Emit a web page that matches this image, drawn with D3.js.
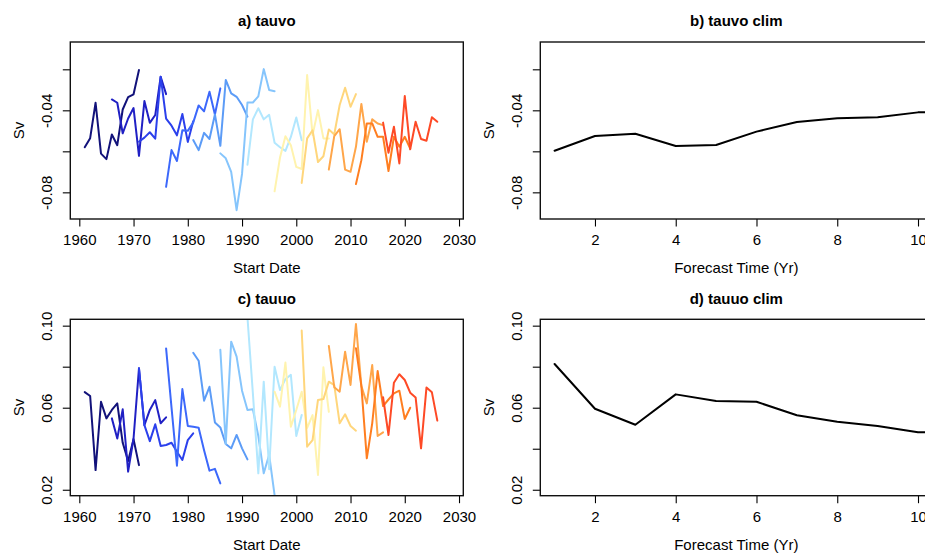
<!DOCTYPE html>
<html>
<head>
<meta charset="utf-8">
<script src="https://cdn.jsdelivr.net/npm/d3@7"></script>
<style>
  body { margin: 0; background: #fff; }
  svg text { font-family: "Liberation Sans", Arial, Helvetica, sans-serif; font-size: 15px; fill: #000; }
</style>
</head>
<body>
<div id="chart"></div>
<script>

// start date of each forecast and the 11 years that each one covers
var startYears = [1961, 1966, 1971, 1976, 1981, 1986, 1991, 1996, 2001, 2006, 2011, 2016];
var leadOffsets = [0, 1, 2, 3, 4, 5, 6, 7, 8, 9, 10];

var lineColors = ["#12127a", "#2020c4", "#2b40ec", "#3c68fb", "#5c9cf7", "#86c5fc",
                  "#b2e7fe", "#fff3ae", "#ffd67c", "#ffa64a", "#ff7e20", "#fe4a26"];

// a) tauvo, one row per start date
var tauvo = [
  [-0.0580, -0.0536, -0.0363, -0.0611, -0.0638, -0.0518, -0.0570, -0.0396, -0.0336, -0.0322, -0.0203],
  [-0.0347, -0.0363, -0.0512, -0.0440, -0.0389, -0.0622, -0.0355, -0.0461, -0.0423, -0.0236, -0.0321],
  [-0.0553, -0.0533, -0.0507, -0.0538, -0.0236, -0.0440, -0.0475, -0.0522, -0.0418, -0.0554, -0.0453],
  [-0.0773, -0.0594, -0.0647, -0.0497, -0.0500, -0.0460, -0.0376, -0.0405, -0.0309, -0.0420, -0.0293],
  [-0.0545, -0.0594, -0.0510, -0.0540, -0.0420, -0.0573, -0.0252, -0.0317, -0.0334, -0.0374, -0.0431],
  [-0.0610, -0.0634, -0.0700, -0.0887, -0.0710, -0.0362, -0.0362, -0.0332, -0.0199, -0.0301, -0.0307],
  [-0.0665, -0.0444, -0.0390, -0.0444, -0.0422, -0.0558, -0.0580, -0.0598, -0.0530, -0.0435, -0.0546],
  [-0.0795, -0.0630, -0.0526, -0.0570, -0.0676, -0.0686, -0.0228, -0.0520, -0.0399, -0.0537, -0.0537],
  [-0.0754, -0.0537, -0.0497, -0.0652, -0.0624, -0.0493, -0.0518, -0.0374, -0.0290, -0.0383, -0.0321],
  [-0.0689, -0.0526, -0.0492, -0.0689, -0.0700, -0.0578, -0.0369, -0.0553, -0.0444, -0.0464, -0.0472],
  [-0.0760, -0.0643, -0.0464, -0.0464, -0.0529, -0.0529, -0.0696, -0.0529, -0.0578, -0.0529, -0.0586],
  [-0.0460, -0.0607, -0.0480, -0.0659, -0.0330, -0.0590, -0.0456, -0.0540, -0.0548, -0.0434, -0.0456]
];

// c) tauuo
var tauuo = [
  [0.0676, 0.0657, 0.0296, 0.0629, 0.0548, 0.0589, 0.0621, 0.0429, 0.0340, 0.0446, 0.0320],
  [0.0548, 0.0450, 0.0592, 0.0288, 0.0450, 0.0792, 0.0515, 0.0589, 0.0637, 0.0524, 0.0553],
  [0.0792, 0.0515, 0.0437, 0.0519, 0.0413, 0.0418, 0.0429, 0.0385, 0.0345, 0.0442, 0.0475],
  [0.0889, 0.0600, 0.0317, 0.0691, 0.0511, 0.0507, 0.0502, 0.0393, 0.0293, 0.0302, 0.0231],
  [0.0868, 0.0829, 0.0634, 0.0702, 0.0528, 0.0504, 0.0423, 0.0402, 0.0467, 0.0402, 0.0348],
  [0.0882, 0.0423, 0.0922, 0.0849, 0.0683, 0.0589, 0.0592, 0.0462, 0.0280, 0.0370, 0.0174],
  [0.1040, 0.0670, 0.0280, 0.0727, 0.0300, 0.0800, 0.0686, 0.0740, 0.0760, 0.0462, 0.0564],
  [0.0678, 0.0605, 0.0820, 0.0507, 0.0589, 0.0678, 0.0502, 0.0564, 0.0272, 0.0797, 0.0580],
  [0.0976, 0.0410, 0.0442, 0.0638, 0.0642, 0.0727, 0.0710, 0.0524, 0.0568, 0.0511, 0.0488],
  [0.0901, 0.0700, 0.0678, 0.0873, 0.0711, 0.1008, 0.0705, 0.0621, 0.0808, 0.0462, 0.0480],
  [0.0890, 0.0705, 0.0353, 0.0524, 0.0779, 0.0608, 0.0640, 0.0670, 0.0683, 0.0545, 0.0600],
  [0.0651, 0.0467, 0.0722, 0.0763, 0.0735, 0.0673, 0.0650, 0.0402, 0.0698, 0.0675, 0.0537]
];

// b) and d) climatologies by forecast time
var leadTimes = [1, 2, 3, 4, 5, 6, 7, 8, 9, 10, 11];
var tauvoClim = [-0.0597, -0.0525, -0.0514, -0.0574, -0.0569, -0.0504, -0.0457, -0.0439, -0.0434, -0.0410, -0.0405];
var tauuoClim = [0.0813, 0.0595, 0.0517, 0.0665, 0.0633, 0.0629, 0.0563, 0.0532, 0.0511, 0.0480, 0.0480];

// ticks, and the tick labels R actually printed
var yearTicks = [1960, 1970, 1980, 1990, 2000, 2010, 2020, 2030];
var leadTicks = [2, 4, 6, 8, 10];
var tauvoTicks = [-0.02, -0.04, -0.06, -0.08];
var tauvoLabels = [-0.04, -0.08];
var tauuoTicks = [0.10, 0.08, 0.06, 0.04, 0.02];
var tauuoLabels = [0.10, 0.06, 0.02];

var W = 925, H = 554;

var svg = d3.select("#chart").append("svg")
    .attr("width", W)
    .attr("height", H);

var panelCount = 0;

function drawPanel(p) {
  var id = "clip" + (panelCount++);

  var x = d3.scaleLinear().domain(p.xDomain).range([p.left, p.right]);
  var y = d3.scaleLinear().domain(p.yDomain).range([p.bottom, p.top]);

  svg.append("clipPath").attr("id", id)
    .append("rect")
      .attr("x", p.left).attr("y", p.top)
      .attr("width", p.right - p.left).attr("height", p.bottom - p.top);

  var plot = svg.append("g").attr("clip-path", "url(#" + id + ")");

  var line = d3.line()
      .x(function(d) { return x(d[0]); })
      .y(function(d) { return y(d[1]); });

  plot.selectAll("path.series")
      .data(p.series)
    .enter().append("path")
      .attr("class", "series")
      .attr("d", function(s) { return line(s.points); })
      .attr("fill", "none")
      .attr("stroke", function(s) { return s.color; })
      .attr("stroke-width", 2)
      .attr("stroke-linejoin", "round")
      .attr("stroke-linecap", "round");

  // x axis
  var xAxis = d3.axisBottom(x)
      .tickValues(p.xTicks)
      .tickSize(7.5)
      .tickFormat(function(d) { return String(d); });

  var gx = svg.append("g")
      .attr("transform", "translate(0," + p.bottom + ")")
      .call(xAxis);
  gx.select(".domain").remove();
  gx.selectAll(".tick line").attr("stroke", "#000").attr("stroke-width", 1.1);
  gx.selectAll(".tick text")
      .attr("y", 21).attr("dy", "0.35em")
      .style("font-size", "15px").style("font-family", null);

  // y axis, labels rotated like R's las=0
  var yAxis = d3.axisLeft(y)
      .tickValues(p.yTicks)
      .tickSize(7.5)
      .tickFormat(function(d) {
        var show = p.yLabels.some(function(v) { return Math.abs(v - d) < 1e-9; });
        return show ? d.toFixed(2) : "";
      });

  var gy = svg.append("g")
      .attr("transform", "translate(" + p.left + ",0)")
      .call(yAxis);
  gy.select(".domain").remove();
  gy.selectAll(".tick line").attr("stroke", "#000").attr("stroke-width", 1.1);
  gy.selectAll(".tick text")
      .attr("transform", "rotate(-90)")
      .attr("x", 0).attr("y", -23.5).attr("dy", "0.35em")
      .style("text-anchor", "middle")
      .style("font-size", "15px").style("font-family", null);

  // box
  svg.append("rect")
      .attr("x", p.left).attr("y", p.top)
      .attr("width", p.right - p.left).attr("height", p.bottom - p.top)
      .attr("fill", "none")
      .attr("stroke", "#111")
      .attr("stroke-width", 1.4);

  var cx = (p.left + p.right) / 2;

  svg.append("text")
      .attr("x", cx).attr("y", p.top - 21).attr("dy", "0.35em")
      .attr("text-anchor", "middle")
      .style("font-weight", "bold")
      .text(p.title);

  svg.append("text")
      .attr("x", cx).attr("y", p.bottom + 49).attr("dy", "0.35em")
      .attr("text-anchor", "middle")
      .text(p.xLabel);

  svg.append("text")
      .attr("transform", "translate(" + (p.left - 51.5) + "," + ((p.top + p.bottom) / 2) + ") rotate(-90)")
      .attr("dy", "0.35em")
      .attr("text-anchor", "middle")
      .text("Sv");
}

function spaghetti(rows) {
  return rows.map(function(vals, i) {
    return {
      color: lineColors[i],
      points: vals.map(function(v, j) { return [startYears[i] + leadOffsets[j], v]; })
    };
  });
}

function climSeries(vals) {
  return [{ color: "#000", points: vals.map(function(v, j) { return [leadTimes[j], v]; }) }];
}

var leftBox = { left: 70.3, right: 463.3 };
var rightBox = { left: 540.3, right: 932.3 };
var topRow = { top: 42, bottom: 219 };
var bottomRow = { top: 319.3, bottom: 495.7 };
var yearDomain = [1958.34, 2030.79];
var leadDomain = [0.646, 10.354];
var tauvoDomain = [-0.0930, -0.00668];
var tauuoDomain = [0.0171, 0.1031];

drawPanel({
  left: leftBox.left, right: leftBox.right, top: topRow.top, bottom: topRow.bottom,
  xDomain: yearDomain, yDomain: tauvoDomain,
  xTicks: yearTicks, yTicks: tauvoTicks, yLabels: tauvoLabels,
  title: "a) tauvo", xLabel: "Start Date", series: spaghetti(tauvo)
});

drawPanel({
  left: rightBox.left, right: rightBox.right, top: topRow.top, bottom: topRow.bottom,
  xDomain: leadDomain, yDomain: tauvoDomain,
  xTicks: leadTicks, yTicks: tauvoTicks, yLabels: tauvoLabels,
  title: "b) tauvo clim", xLabel: "Forecast Time (Yr)", series: climSeries(tauvoClim)
});

drawPanel({
  left: leftBox.left, right: leftBox.right, top: bottomRow.top, bottom: bottomRow.bottom,
  xDomain: yearDomain, yDomain: tauuoDomain,
  xTicks: yearTicks, yTicks: tauuoTicks, yLabels: tauuoLabels,
  title: "c) tauuo", xLabel: "Start Date", series: spaghetti(tauuo)
});

drawPanel({
  left: rightBox.left, right: rightBox.right, top: bottomRow.top, bottom: bottomRow.bottom,
  xDomain: leadDomain, yDomain: tauuoDomain,
  xTicks: leadTicks, yTicks: tauuoTicks, yLabels: tauuoLabels,
  title: "d) tauuo clim", xLabel: "Forecast Time (Yr)", series: climSeries(tauuoClim)
});

</script>
</body>
</html>
